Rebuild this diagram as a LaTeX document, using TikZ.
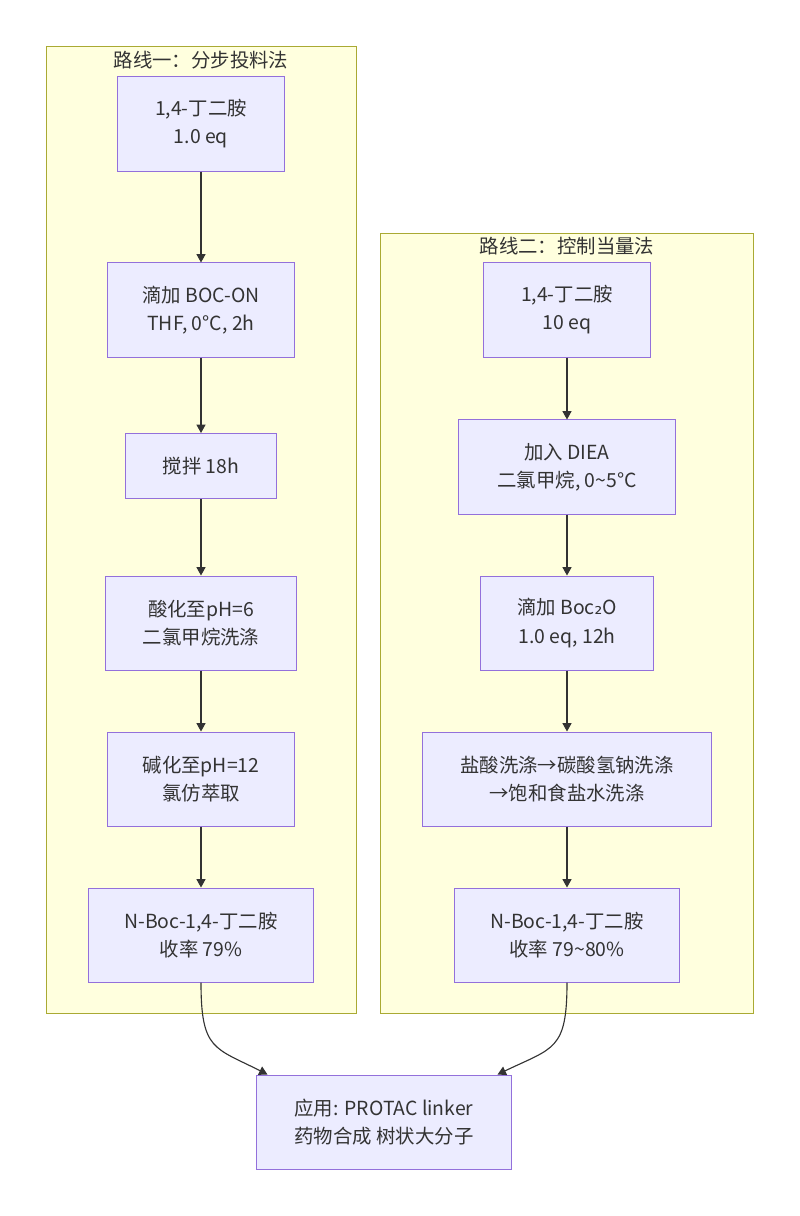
\documentclass[tikz,border=0pt]{standalone}
\usepackage{fontspec}
\setmainfont{Noto Sans CJK SC}
\newfontfamily\subfont{DejaVu Sans}
\usetikzlibrary{arrows.meta}
\definecolor{clusterfill}{HTML}{FFFFDE}
\definecolor{clusterline}{HTML}{AAAA33}
\definecolor{stepfill}{HTML}{ECECFF}
\definecolor{stepline}{HTML}{9370DB}
\definecolor{ink}{HTML}{333333}
\tikzset{
  cluster/.style={fill=clusterfill, draw=clusterline, line width=0.7pt},
  clustertitle/.style={text=ink, font=\fontsize{13.8}{20}\selectfont, inner sep=0pt},
  stepbox/.style={fill=stepfill, draw=stepline, line width=0.7pt, text=ink, align=center, minimum height=2.35cm, inner sep=0pt, font=\fontsize{13.8}{20}\selectfont},
  flow/.style={draw=ink, line width=0.8pt, -{Triangle[length=6pt,width=6.5pt]}},
}

\begin{document}
\begin{tikzpicture}[x=0.025cm, y=-0.025cm]
\useasboundingbox (0,0) rectangle (800,1216);
\draw[cluster] (46,46) rectangle (356,1013);
\draw[cluster] (380,233) rectangle (753,1013);
\node[clustertitle] (t1) at (201,60) {路线一：分步投料法};
\node[clustertitle] (t2) at (567,246) {路线二：控制当量法};
\node[stepbox, minimum width=4.15cm] (a1) at (201,124) {1,4-丁二胺\\1.0 eq};
\node[stepbox, minimum width=4.65cm] (a2) at (201,310) {滴加 BOC-ON\\THF, 0°C, 2h};
\node[stepbox, minimum width=3.75cm, minimum height=1.625cm] (a3) at (201,466) {搅拌 18h};
\node[stepbox, minimum width=4.75cm] (a4) at (201,623) {酸化至pH=6\\二氯甲烷洗涤};
\node[stepbox, minimum width=4.65cm] (a5) at (201,779) {碱化至pH=12\\氯仿萃取};
\node[stepbox, minimum width=5.6cm] (a6) at (201,935) {N-Boc-1,4-丁二胺\\收率 79\%};
\node[stepbox, minimum width=4.175cm] (b1) at (567,310) {1,4-丁二胺\\10 eq};
\node[stepbox, minimum width=5.425cm] (b2) at (567,467) {加入 DIEA\\二氯甲烷, 0\textasciitilde 5°C};
\node[stepbox, minimum width=4.3cm] (b3) at (567,623) {滴加 Boc{\subfont ₂}O\\1.0 eq, 12h};
\node[stepbox, minimum width=7.2cm] (b4) at (567,779) {盐酸洗涤→碳酸氢钠洗涤\\→饱和食盐水洗涤};
\node[stepbox, minimum width=5.6cm] (b5) at (567,935) {N-Boc-1,4-丁二胺\\收率 79\textasciitilde 80\%};
\node[stepbox, minimum width=6.35cm] (fin) at (384,1122) {应用: PROTAC linker\\药物合成 树状大分子};
\draw[flow] (a1) -- (a2);
\draw[flow] (a2) -- (a3);
\draw[flow] (a3) -- (a4);
\draw[flow] (a4) -- (a5);
\draw[flow] (a5) -- (a6);
\draw[flow] (b1) -- (b2);
\draw[flow] (b2) -- (b3);
\draw[flow] (b3) -- (b4);
\draw[flow] (b4) -- (b5);
\draw[flow] (a6.south) .. controls +(0,68) and +(-53,-27) .. ([xshift=0.275cm]fin.north west);
\draw[flow] (b5.south) .. controls +(0,68) and +(56,-27) .. ([xshift=-0.35cm]fin.north east);
\end{tikzpicture}
\end{document}
